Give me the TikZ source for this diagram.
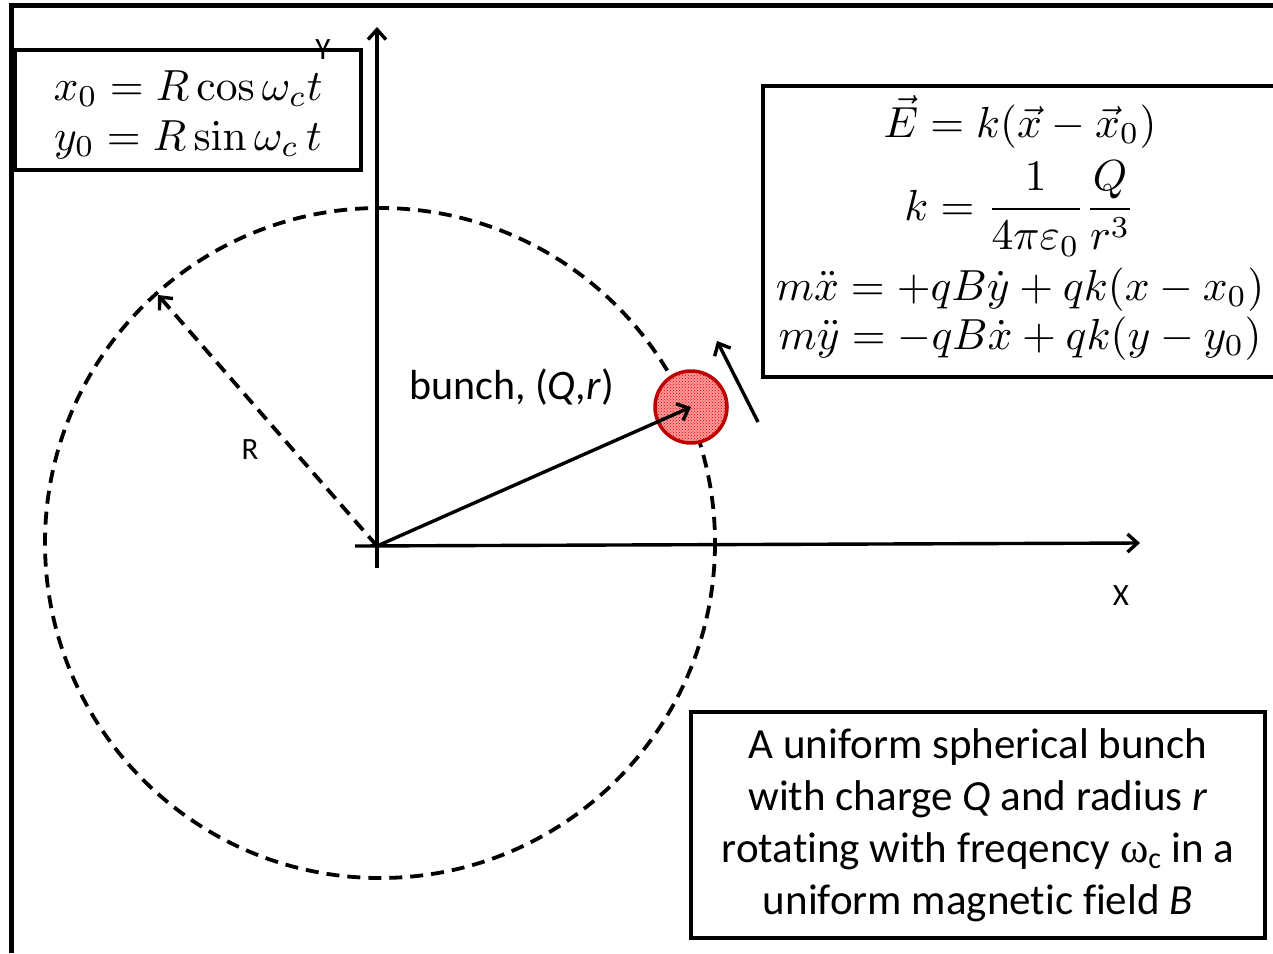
\documentclass[tikz,border=0pt]{standalone}
\usepackage{amsmath}
\usepackage[no-math]{fontspec}
\setmainfont{Carlito}[Ligatures=NoCommon]
\newfontfamily\greekfont{Liberation Serif}
\usetikzlibrary{arrows.meta,patterns}
\tikzset{
  tipbarb/.tip={Straight Barb[length=10pt,width=18pt,line width=3.4pt]},
  axisline/.style={line width=3.4pt,-tipbarb},
  boxline/.style={line width=3.5pt},
  dashline/.style={line width=3.8pt,dash pattern=on 13pt off 8pt},
  eqn/.style={inner sep=0pt,font=\fontsize{10}{12}\selectfont,scale=4.35,transform shape},
  lbl/.style={inner sep=0pt,font=\fontsize{31}{36}\selectfont},
  bigtext/.style={align=center,font=\fontsize{43}{52}\selectfont}
}
\begin{document}
\begin{tikzpicture}[x=1pt,y=-1pt]
\useasboundingbox (0,0) rectangle (1273,953);
% outer frame
\draw[line width=5pt] (11,953) -- (11,5) -- (1273,5);
% circle orbit
\draw[dashline] (380,543) circle[radius=335];
% axes
\coordinate (O) at (377,546);
\coordinate (ybot) at (377,568);
\coordinate (ytop) at (377,27);
\coordinate (xleft) at (355,546);
\coordinate (xright) at (1140,543);
\draw[axisline] (ybot) -- (ytop);
\draw[axisline] (xleft) -- (xright);
\node[lbl] (xl) at (1121,596) {X};
% R arrow
\coordinate (Rend) at (158,295);
\draw[dashline,-tipbarb] (O) -- (Rend);
\node[lbl] (Rl) at (250,450) {R};
% bunch
\node[circle,minimum size=72pt,inner sep=0pt,draw=red!75!black,line width=3.5pt,
      preaction={fill=red!40},
      pattern=crosshatch dots,pattern color=red!85!black] (B) at (691,407) {};
\draw[axisline] (O) -- (B.center);
\node[anchor=base west,inner sep=0pt,font=\fontsize{42}{48}\selectfont] (bl) at (409,399) {bunch, (\textit{Q},\textit{r})};
% velocity
\coordinate (v1) at (758,422);
\coordinate (v2) at (717,341);
\draw[axisline] (v1) -- (v2);
% top-left box
\draw[boxline] (15,50) rectangle (361,170);
\node[eqn,anchor=base] (x0) at (188,100) {$x_0 = R\cos\omega_c t$};
\node[eqn,anchor=base] (y0) at (188,150) {$y_0 = R\sin\omega_c\, t$};
\node[lbl] (yl) at (323,50) {Y};
% equation box
\draw[boxline] (1273,86) -- (763,86) -- (763,377) -- (1273,377);
\node[eqn,anchor=base] (e1) at (1020,137) {$\vec{E} = k(\vec{x} - \vec{x}_0)$};
\node[eqn,anchor=base] (e2) at (1020,220) {$k = \dfrac{1}{4\pi\varepsilon_0}\dfrac{Q}{r^3}$};
\node[eqn,anchor=base] (e3) at (1020,300) {$m\ddot{x} = +qB\dot{y} + qk(x - x_0)$};
\node[eqn,anchor=base] (e4) at (1020,349) {$m\ddot{y} = -qB\dot{x} + qk(y - y_0)$};
% bottom box
\node[draw,boxline,bigtext,minimum width=574pt,minimum height=226pt,inner sep=0pt] (desc) at (978,825)
  {A uniform spherical bunch\\with charge \textit{Q} and radius \textit{r}\\rotating with freqency {\greekfont ω}\textsubscript{c} in a\\uniform magnetic field \textit{B}};
\end{tikzpicture}
\end{document}
